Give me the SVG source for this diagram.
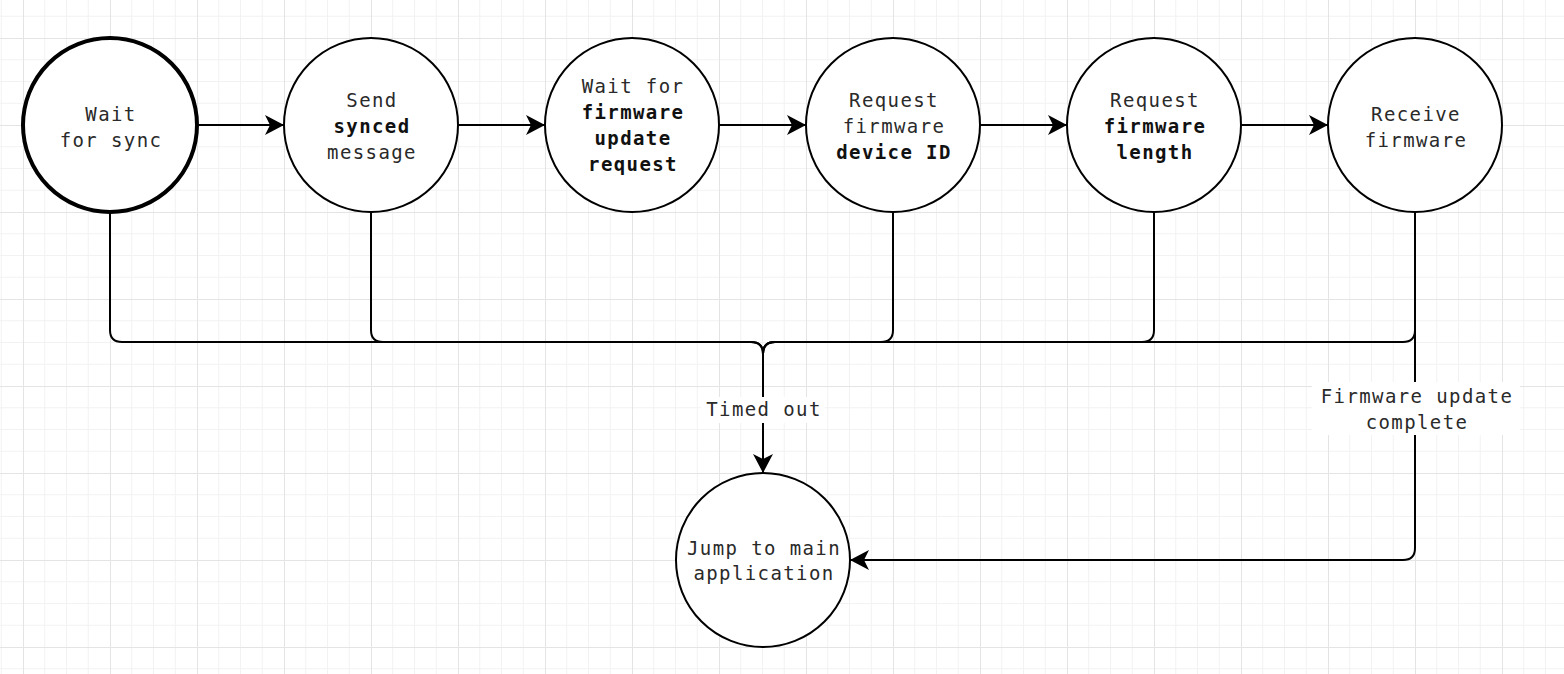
<svg xmlns="http://www.w3.org/2000/svg" width="1564" height="674" viewBox="0 0 1564 674">
  <style>
    .node circle { fill: #ffffff; stroke: #000000; stroke-width: 2; }
    .node.start circle { stroke-width: 4; }
    text { font-family: "DejaVu Sans Mono", "Liberation Mono", monospace; font-size: 19px; letter-spacing: 1.4px; fill: #2a2a2a; text-anchor: middle; }
    .b { font-weight: bold; fill: #111111; }
    .edge { fill: none; stroke: #000000; stroke-width: 2; }
    .lblbg { fill: #ffffff; }
  </style>
  <defs>
    <pattern id="grid" patternUnits="userSpaceOnUse" x="23" y="38" width="87" height="87">
      <path d="M21.75,0 V87 M43.5,0 V87 M65.25,0 V87 M0,21.75 H87 M0,43.5 H87 M0,65.25 H87" stroke="#f2f2f2" stroke-width="1" fill="none"/>
      <path d="M0.5,0 V87 M0,0.5 H87" stroke="#e4e4e4" stroke-width="1" fill="none"/>
    </pattern>
    <marker id="arrow" markerUnits="userSpaceOnUse" markerWidth="22" markerHeight="22" viewBox="-20 -11 22 22" refX="0" refY="0" orient="auto">
      <path d="M0,0 L-19,-10 L-14,0 L-19,10 Z" fill="#000000"/>
    </marker>
  </defs>

  <!-- canvas with grid -->
  <rect width="1564" height="674" fill="#ffffff"/>
  <rect width="1564" height="674" fill="url(#grid)"/>

  <!-- connectors -->
  <g id="connectors">
    <path class="edge" d="M197,125 H284" marker-end="url(#arrow)"/>
    <path class="edge" d="M458,125 H545" marker-end="url(#arrow)"/>
    <path class="edge" d="M719,125 H806" marker-end="url(#arrow)"/>
    <path class="edge" d="M980,125 H1067" marker-end="url(#arrow)"/>
    <path class="edge" d="M1241,125 H1328" marker-end="url(#arrow)"/>

    <!-- timeout branches merging into the bus -->
    <path class="edge" d="M110,212 V330 Q110,342 122,342 H751 Q763,342 763,354 V473" marker-end="url(#arrow)"/>
    <path class="edge" d="M371,212 V330 Q371,342 383,342 H751 Q763,342 763,354"/>
    <path class="edge" d="M893,212 V330 Q893,342 881,342 H775 Q763,342 763,354"/>
    <path class="edge" d="M1154,212 V330 Q1154,342 1142,342 H775 Q763,342 763,354"/>
    <path class="edge" d="M1415,212 V330 Q1415,342 1403,342 H775 Q763,342 763,354"/>

    <!-- completion path -->
    <path class="edge" d="M1415,212 V548 Q1415,560 1403,560 H850" marker-end="url(#arrow)"/>

    <rect class="lblbg" x="701" y="397" width="124" height="26"/>
    <text x="764" y="416">Timed out</text>

    <rect class="lblbg" x="1312" y="382" width="208" height="53"/>
    <text x="1417" y="403">Firmware update</text>
    <text x="1417" y="429">complete</text>
  </g>

  <!-- states -->
  <g id="wait-sync" class="node start">
    <circle cx="110" cy="125" r="87"/>
    <text x="111" y="121">Wait</text>
    <text x="111" y="147">for sync</text>
  </g>

  <g id="send-synced" class="node">
    <circle cx="371" cy="125" r="87"/>
    <text x="372" y="107">Send</text>
    <text x="372" y="133" class="b">synced</text>
    <text x="372" y="159">message</text>
  </g>

  <g id="wait-update-request" class="node">
    <circle cx="632" cy="125" r="87"/>
    <text x="633" y="93">Wait for</text>
    <text x="633" y="119" class="b">firmware</text>
    <text x="633" y="145" class="b">update</text>
    <text x="633" y="171" class="b">request</text>
  </g>

  <g id="request-device-id" class="node">
    <circle cx="893" cy="125" r="87"/>
    <text x="894" y="107">Request</text>
    <text x="894" y="133">firmware</text>
    <text x="894" y="159" class="b">device ID</text>
  </g>

  <g id="request-length" class="node">
    <circle cx="1154" cy="125" r="87"/>
    <text x="1155" y="107">Request</text>
    <text x="1155" y="133" class="b">firmware</text>
    <text x="1155" y="159" class="b">length</text>
  </g>

  <g id="receive-firmware" class="node">
    <circle cx="1415" cy="125" r="87"/>
    <text x="1416" y="121">Receive</text>
    <text x="1416" y="147">firmware</text>
  </g>

  <g id="jump-main" class="node">
    <circle cx="763" cy="560" r="87"/>
    <text x="764" y="555">Jump to main</text>
    <text x="764" y="580">application</text>
  </g>
</svg>
